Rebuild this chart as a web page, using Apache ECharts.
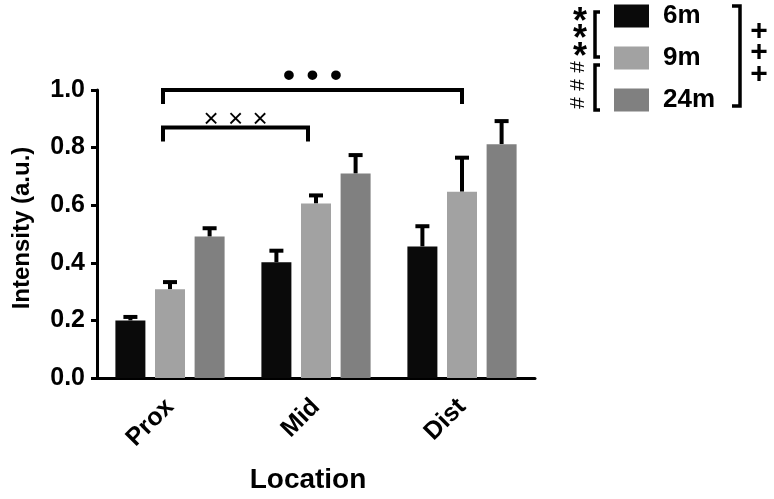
<!DOCTYPE html>
<html>
<head>
<meta charset="utf-8">
<script src="https://cdn.jsdelivr.net/npm/echarts@6/dist/echarts.min.js"></script>
<style>html,body{margin:0;padding:0;background:#fff}#c{width:774px;height:499px}</style>
</head>
<body>
<div id="c"></div>
<script>
// ---- data ----
var categories = ['Prox', 'Mid', 'Dist'];
var seriesNames = ['6m', '9m', '24m'];
var values6m  = [0.200, 0.402, 0.457];
var values9m  = [0.308, 0.606, 0.647];
var values24m = [0.491, 0.710, 0.812];
var err6m  = [0.012, 0.040, 0.070];
var err9m  = [0.025, 0.028, 0.118];
var err24m = [0.029, 0.064, 0.080];
var yTicks = [0.0, 0.2, 0.4, 0.6, 0.8, 1.0];
var bracketFrom = ['Prox', 'Prox'];
var bracketTo   = ['Dist', 'Mid'];
var bracketLevel = [1.0, 0.87];
var bracketMark = ['\u2022', '\u00d7'];

// ---- styles ----
var FONT = 'Liberation Sans, Arial, sans-serif';
var colors = ['#0a0a0a', '#a2a2a2', '#808080'];
var bracketLeftPad = [-7, -7];
var bracketRightPad = [0, -8];
var markFont = [{size: 34, weight: 'bold', dy: -13, gap: 23.5}, {size: 26, weight: 'normal', dy: -8, gap: 24.5}];

var allValues = [values6m, values9m, values24m];
var allErr = [err6m, err9m, err24m];
var BAR_W = 30, BAR_STEP = 39.6;

var series = [];
seriesNames.forEach(function (n, i) {
  series.push({
    name: n, type: 'bar', data: allValues[i], barWidth: BAR_W, barGap: '32%',
    itemStyle: {color: colors[i]}, z: 3
  });
});
seriesNames.forEach(function (n, i) {
  series.push({
    name: n + ' err', type: 'custom', z: 2, clip: false,
    data: allValues[i].map(function (v, k) { return [k, v, allErr[i][k]]; }),
    encode: {x: 0, y: 1},
    renderItem: function (params, api) {
      var k = api.value(0), v = api.value(1), e = api.value(2);
      var p0 = api.coord([k, v]), p1 = api.coord([k, v + e]);
      var x = p0[0] + (i - 1) * BAR_STEP;
      return {type: 'group', children: [
        {type: 'line', shape: {x1: x, y1: p0[1], x2: x, y2: p1[1]}, style: {stroke: '#000', lineWidth: 4}},
        {type: 'line', shape: {x1: x - 7, y1: p1[1], x2: x + 7, y2: p1[1]}, style: {stroke: '#000', lineWidth: 4}}
      ]};
    }
  });
});
series.push({
  name: 'brackets', type: 'custom', z: 5, clip: false,
  data: bracketFrom.map(function (f, j) { return [categories.indexOf(f), categories.indexOf(bracketTo[j]), bracketLevel[j], j]; }),
  encode: {x: 0, y: 2},
  renderItem: function (params, api) {
    var j = api.value(3);
    var a = api.coord([api.value(0), api.value(2)]);
    var b = api.coord([api.value(1), api.value(2)]);
    var x1 = a[0] + bracketLeftPad[j], x2 = b[0] + bracketRightPad[j], y = a[1];
    var ch = [{type: 'polyline', shape: {points: [[x1, y + 14], [x1, y], [x2, y], [x2, y + 14]]},
      style: {stroke: '#000', lineWidth: 4, fill: null}}];
    var mf = markFont[j], cx = (x1 + x2) / 2;
    for (var m = -1; m <= 1; m++) {
      ch.push({type: 'text', x: cx + m * mf.gap, y: y + mf.dy,
        style: {text: bracketMark[j], font: mf.weight + ' ' + mf.size + 'px ' + FONT, fill: '#000', align: 'center', verticalAlign: 'middle'}});
    }
    return {type: 'group', children: ch};
  }
});

function lg(pts) { return {type: 'polyline', shape: {points: pts}, style: {stroke: '#000', lineWidth: 3.5, fill: null}}; }
function gt(t, x, y, size, weight, rot) {
  return {type: 'text', x: x, y: y, rotation: rot || 0,
    style: {text: t, font: (weight || 'normal') + ' ' + size + 'px ' + FONT, fill: '#000', align: 'center', verticalAlign: 'middle'}};
}
var graphics = [
  lg([[600, 12], [595, 12], [595, 57], [600, 57]]),
  lg([[600, 65], [595, 65], [595, 110], [600, 110]]),
  lg([[732, 6], [740, 6], [740, 106], [732, 106]])
];
[23, 40, 58].forEach(function (y) { graphics.push(gt('*', 580, y, 36, 'bold')); });
[67, 85, 103].forEach(function (y) { graphics.push(gt('#', 578, y, 21, 'normal', Math.PI / 2)); });
[32, 53, 75].forEach(function (y) { graphics.push(gt('+', 759, y, 30, 'bold')); });

var option = {
  animation: false,
  backgroundColor: '#fff',
  textStyle: {fontFamily: FONT},
  grid: {left: 97, right: 239, top: 90, bottom: 119},
  legend: {
    data: seriesNames, orient: 'vertical', left: 614, top: 3, itemWidth: 35, itemHeight: 23, itemGap: 16,
    icon: 'rect', padding: 0,
    textStyle: {fontSize: 26, fontWeight: 'bold', color: '#000', fontFamily: FONT, padding: [0, 0, 0, 9]}
  },
  xAxis: {
    type: 'category', data: categories,
    name: 'Location', nameLocation: 'middle', nameGap: 88,
    nameTextStyle: {fontSize: 28, fontWeight: 'bold', color: '#000', fontFamily: FONT, padding: [0, 16, 0, 0]},
    axisLine: {lineStyle: {color: '#000', width: 3}},
    axisTick: {alignWithLabel: true, length: 6, lineStyle: {color: '#000', width: 3}},
    axisLabel: {rotate: 45, fontSize: 25, fontWeight: 'bold', color: '#000', margin: 25, fontFamily: FONT}
  },
  yAxis: {
    type: 'value', min: 0, max: 1, interval: 0.2,
    name: 'Intensity (a.u.)', nameLocation: 'middle', nameGap: 63, nameRotate: 90,
    nameTextStyle: {fontSize: 24, fontWeight: 'bold', color: '#000', fontFamily: FONT, padding: [0, 0, 0, 12]},
    axisLine: {show: true, lineStyle: {color: '#000', width: 3}},
    axisTick: {show: true, length: 6, lineStyle: {color: '#000', width: 3}},
    splitLine: {show: false},
    axisLabel: {fontSize: 25, fontWeight: 'bold', color: '#000', margin: 12, fontFamily: FONT,
      formatter: function (v) { return yTicks.indexOf(Math.round(v * 10) / 10) >= 0 ? v.toFixed(1) : ''; }}
  },
  graphic: graphics,
  series: series
};
echarts.init(document.getElementById('c')).setOption(option);
</script>
</body>
</html>
